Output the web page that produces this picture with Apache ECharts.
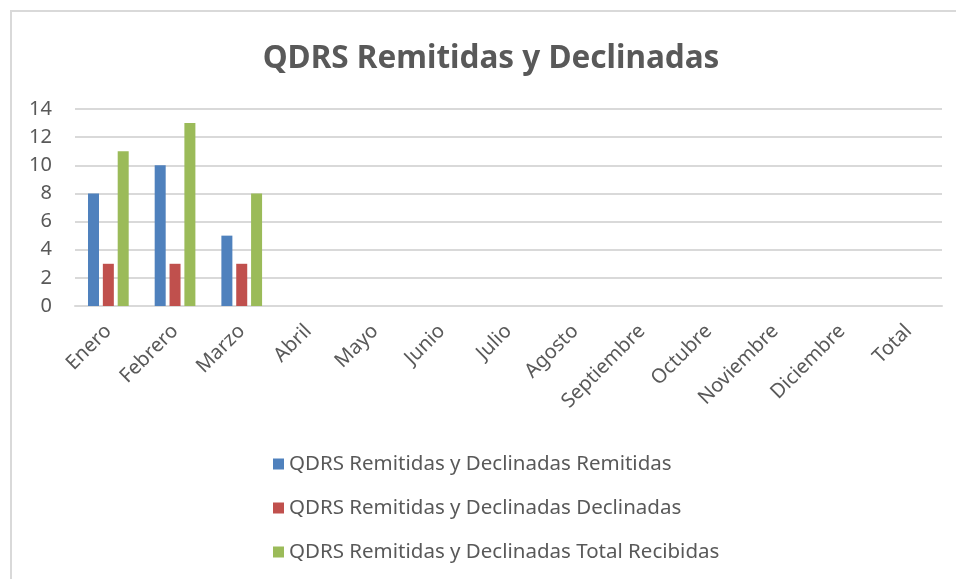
<!DOCTYPE html>
<html>
<head>
<meta charset="utf-8">
<style>
  html, body { margin: 0; padding: 0; background: #fff; }
  #chart { width: 956px; height: 579px; }
</style>
<script src="https://cdn.jsdelivr.net/npm/echarts@6/dist/echarts.min.js"></script>
</head>
<body>
<div id="chart"></div>
<script>
// meses del eje X
var meses = ['Enero', 'Febrero', 'Marzo', 'Abril', 'Mayo', 'Junio', 'Julio', 'Agosto',
    'Septiembre', 'Octubre', 'Noviembre', 'Diciembre', 'Total'];

// valores de cada serie (solo ene-mar tienen datos)
var remitidas = [8, 10, 5, null, null, null, null, null, null, null, null, null, null];
var declinadas = [3, 3, 3, null, null, null, null, null, null, null, null, null, null];
var totalRecibidas = [11, 13, 8, null, null, null, null, null, null, null, null, null, null];

var nombres = [
    'QDRS Remitidas y Declinadas Remitidas',
    'QDRS Remitidas y Declinadas Declinadas',
    'QDRS Remitidas y Declinadas Total Recibidas'
];

var textColor = '#595959';
var fontFam = '"Noto Sans", sans-serif';

var chart = echarts.init(document.getElementById('chart'));

var option = {
    animation: false,
    backgroundColor: '#fff',
    color: ['#4f81bd', '#c0504d', '#9bbb59'],
    graphic: [{
        type: 'rect',
        shape: { x: 11, y: 11, width: 1000, height: 1000 },
        style: { fill: 'none', stroke: '#d9d9d9', lineWidth: 2 },
        silent: true
    }],
    title: {
        text: 'QDRS Remitidas y Declinadas',
        left: 486,
        textAlign: 'center',
        top: 38,
        textStyle: {
            fontFamily: fontFam,
            fontSize: 31.5,
            fontWeight: 'bold',
            color: textColor
        }
    },
    legend: {
        orient: 'vertical',
        left: 268,
        top: 448,
        icon: 'rect',
        itemWidth: 11,
        itemHeight: 11,
        itemGap: 22,
        textStyle: {
            fontFamily: fontFam,
            fontSize: 20.5,
            lineHeight: 22,
            color: textColor
        },
        data: nombres
    },
    grid: {
        left: 75,
        right: 14,
        top: 109,
        bottom: 273
    },
    xAxis: {
        type: 'category',
        data: meses,
        axisLine: { lineStyle: { color: '#d9d9d9', width: 2 } },
        axisTick: { show: false },
        axisLabel: {
            interval: 0,
            rotate: 45,
            margin: 22,
            fontFamily: fontFam,
            fontSize: 20,
            color: textColor
        }
    },
    yAxis: {
        type: 'value',
        min: 0,
        max: 14,
        interval: 2,
        axisLine: { show: false },
        axisTick: { show: false },
        splitLine: { lineStyle: { color: '#d9d9d9', width: 2 } },
        axisLabel: {
            margin: 23,
            fontFamily: fontFam,
            fontSize: 20,
            color: textColor
        }
    },
    series: [
        { name: nombres[0], type: 'bar', data: remitidas, barWidth: 11, barGap: '35%' },
        { name: nombres[1], type: 'bar', data: declinadas, barWidth: 11, barGap: '35%' },
        { name: nombres[2], type: 'bar', data: totalRecibidas, barWidth: 11, barGap: '35%' }
    ]
};

chart.setOption(option);
</script>
</body>
</html>
